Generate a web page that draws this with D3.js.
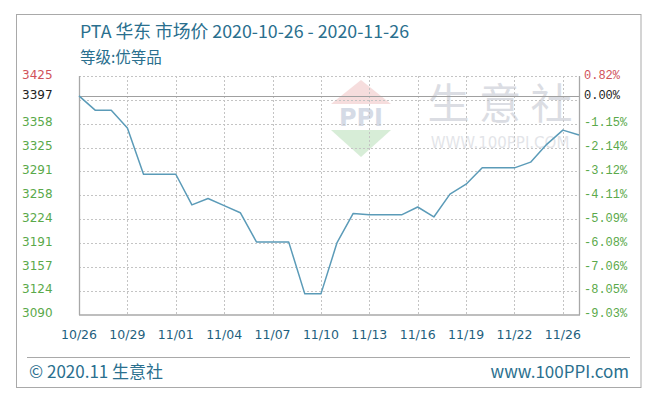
<!DOCTYPE html>
<html><head><meta charset="utf-8">
<script src="https://cdnjs.cloudflare.com/ajax/libs/d3/7.8.5/d3.min.js"></script>
<style>html,body{margin:0;padding:0;background:#fff;}svg{display:block;}</style>
</head><body>
<svg id="c" width="657" height="411"></svg>
<script>
// ---- data ----
const dates = ["2020-10-26","2020-10-27","2020-10-28","2020-10-29","2020-10-30","2020-10-31","2020-11-01","2020-11-02",
  "2020-11-03","2020-11-04","2020-11-05","2020-11-06","2020-11-07","2020-11-08","2020-11-09","2020-11-10",
  "2020-11-11","2020-11-12","2020-11-13","2020-11-14","2020-11-15","2020-11-16","2020-11-17","2020-11-18",
  "2020-11-19","2020-11-20","2020-11-21","2020-11-22","2020-11-23","2020-11-24","2020-11-25","2020-11-26"];
const prices = [3397,3377,3377,3352,3287,3287,3287,3244,
  3253,3243,3233,3192,3192,3192,3119,3119,
  3191,3232,3230,3230,3230,3241,3227,3259,
  3273,3296,3296,3296,3304,3329,3349,3342];
const xTickDates = ["2020-10-26","2020-10-29","2020-11-01","2020-11-04","2020-11-07","2020-11-10",
  "2020-11-13","2020-11-16","2020-11-19","2020-11-22","2020-11-25"];
const xTickLabels = ["10/26","10/29","11/01","11/04","11/07","11/10","11/13","11/16","11/19","11/22","11/26"];
const gridValues = [3123.5,3157,3190.5,3224,3257.5,3291,3324.5,3358,3391.5,3425];
const leftTickValues = [3090,3123.5,3157,3190.5,3224,3257.5,3291,3324.5,3358,3397,3425];
const leftTickLabels = ["3090","3124","3157","3191","3224","3258","3291","3325","3358","3397","3425"];
const rightTickLabels = ["-9.03%","-8.05%","-7.06%","-6.08%","-5.09%","-4.11%","-3.12%","-2.14%","-1.15%","0.00%","0.82%"];
const basePrice = 3397;
const yDomain = [3090, 3425];
const titleText = "PTA 华东 市场价 2020-10-26 - 2020-11-26";
const subTitleText = "等级:优等品";
const footerLeft = "© 2020.11 生意社";
const footerRight = "www.100PPI.com";

// ---- layout ----
const svg = d3.select("#c");
const L = 79, R = 579, T = 76, B = 314.5;
const parse = d3.utcParse("%Y-%m-%d");
const x = d3.scaleUtc().domain([parse(dates[0]), parse(dates[dates.length-1])]).range([L, R]);
const y = d3.scaleLinear().domain(yDomain).range([B, T]);

const green = "#5aa94a", red = "#d0525a", blue = "#2a6f8e";

// outer frame
svg.append("rect").attr("x",16.5).attr("y",14.5).attr("width",624.5).attr("height",373)
  .attr("fill","#fff").attr("stroke","#a9a9a9");
svg.append("line").attr("x1",27).attr("x2",630).attr("y1",357.5).attr("y2",357.5).attr("stroke","#a9a9a9");

// title
svg.append("text").attr("x",80).attr("y",38).text(titleText)
  .attr("font-family","'Noto Sans CJK SC', sans-serif").attr("font-size",17.8).attr("fill",blue);
svg.append("text").attr("x",80).attr("y",63).text(subTitleText)
  .attr("font-family","'Noto Sans CJK SC', sans-serif").attr("font-size",15.5).attr("fill",blue);

// watermark
const wm = svg.append("g").attr("opacity",0.35);
wm.append("path").attr("d","M331,104 L361,80 L391,104 Z").attr("fill","#e8a0a0");
wm.append("text").attr("x",361).attr("y",126).attr("text-anchor","middle").text("PPI")
  .attr("font-family","'DejaVu Sans', sans-serif").attr("font-weight","bold").attr("font-size",24).attr("fill","#8a9ab8");
wm.append("path").attr("d","M331,130 L391,130 L361,157 Z").attr("fill","#90cc90");
wm.append("text").attr("x",500).attr("y",119).attr("text-anchor","middle").text("生 意 社")
  .attr("font-family","'Noto Sans CJK SC', sans-serif").attr("font-size",42).attr("fill","#9aa0b0");
wm.append("text").attr("x",500).attr("y",148).attr("text-anchor","middle").text("WWW.100PPI.COM")
  .attr("font-family","'DejaVu Sans', sans-serif").attr("font-size",15).attr("fill","#b0b4c0");

// grid
svg.append("g").selectAll("line").data(gridValues).join("line")
  .attr("x1",L).attr("x2",R).attr("y1",d=>Math.round(y(d))+0.5).attr("y2",d=>Math.round(y(d))+0.5)
  .attr("stroke","#c4c4c4").attr("stroke-dasharray","2,2");
svg.append("g").selectAll("line").data(xTickDates.slice(1)).join("line")
  .attr("x1",d=>Math.round(x(parse(d)))+0.5).attr("x2",d=>Math.round(x(parse(d)))+0.5).attr("y1",T).attr("y2",B)
  .attr("stroke","#c4c4c4").attr("stroke-dasharray","2,2");

// base line
svg.append("line").attr("x1",L).attr("x2",R).attr("y1",Math.round(y(basePrice))+0.5).attr("y2",Math.round(y(basePrice))+0.5)
  .attr("stroke","#a0a0a0").attr("stroke-width",1.2);

// axes frame
svg.append("line").attr("x1",L+0.5).attr("x2",L+0.5).attr("y1",T).attr("y2",B+0.5).attr("stroke","#a8a8a8").attr("stroke-width",1.3);
svg.append("line").attr("x1",R+0.5).attr("x2",R+0.5).attr("y1",T).attr("y2",B+0.5).attr("stroke","#a8a8a8").attr("stroke-width",1.3);
svg.append("line").attr("x1",L).attr("x2",R+1).attr("y1",B+0.5).attr("y2",B+0.5).attr("stroke","#a8a8a8").attr("stroke-width",1.3);

// line
const data = dates.map((d,i)=>({d:parse(d), v:prices[i]}));
svg.append("path").datum(data).attr("fill","none").attr("stroke","#5b9bb8").attr("stroke-width",1.5)
  .attr("stroke-linejoin","round")
  .attr("d", d3.line().x(d=>x(d.d)).y(d=>y(d.v)));

// left labels
const colorFor = (i,n)=> i===n-1 ? red : (i===n-2 ? "#222" : green);
svg.append("g").selectAll("text").data(leftTickValues).join("text")
  .attr("x",22).attr("y",d=>y(d)-1.5).attr("dy","0.35em")
  .text((d,i)=>leftTickLabels[i])
  .attr("font-family","'DejaVu Sans', sans-serif").attr("font-size",12)
  .attr("fill",(d,i)=>colorFor(i,leftTickValues.length));
// right labels
svg.append("g").selectAll("text").data(leftTickValues).join("text")
  .attr("x",584).attr("y",d=>y(d)-1.5).attr("dy","0.35em")
  .text((d,i)=>rightTickLabels[i])
  .attr("font-family","'Liberation Mono', monospace").attr("font-size",12)
  .attr("fill",(d,i)=>colorFor(i,leftTickValues.length));

// x labels
svg.append("g").selectAll("text").data(xTickDates).join("text")
  .attr("x",d=>x(parse(d))).attr("y",335).attr("dy","0.35em").attr("text-anchor","middle")
  .text((d,i)=>xTickLabels[i])
  .attr("font-family","'DejaVu Sans', sans-serif").attr("font-size",12.5).attr("fill","#1f5f7e");

// footer
svg.append("text").attr("x",29).attr("y",378).text(footerLeft)
  .attr("font-family","'Noto Sans CJK SC', sans-serif").attr("font-size",17).attr("fill",blue);
svg.append("text").attr("x",629).attr("y",378).attr("text-anchor","end").text(footerRight)
  .attr("font-family","'Noto Sans CJK SC', sans-serif").attr("font-size",17).attr("fill",blue);
</script>
</body></html>
